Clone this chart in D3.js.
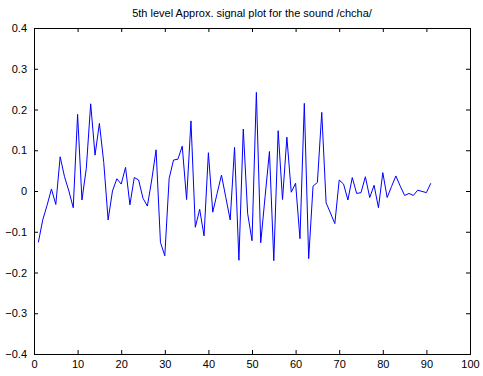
<!DOCTYPE html>
<html>
<head>
<meta charset="utf-8">
<script src="https://cdn.jsdelivr.net/npm/d3@7"></script>
<style>
  body { margin: 0; background: #fff; }
  svg text { font-family: Arial, "Liberation Sans", sans-serif; font-size: 11px; fill: #000; }
  .axis path, .axis line { stroke: #000; }
</style>
</head>
<body>
<script>
// chart data (sample index 1..91)
var titleText = "5th level Approx. signal plot for the sound /chcha/";
var signal = [
  -0.126, -0.071, -0.035, 0.005, -0.033, 0.084, 0.035, 0.0, -0.041, 0.188,
  -0.022, 0.056, 0.214, 0.088, 0.166, 0.07, -0.071, 0.0, 0.03, 0.017,
  0.058, -0.034, 0.033, 0.027, -0.018, -0.037, 0.027, 0.101, -0.126, -0.159,
  0.031, 0.076, 0.078, 0.11, -0.021, 0.172, -0.089, -0.045, -0.11, 0.094,
  -0.052, -0.006, 0.039, -0.016, -0.071, 0.107, -0.17, 0.152, -0.055, -0.122,
  0.242, -0.127, -0.014, 0.097, -0.171, 0.148, -0.021, 0.132, -0.003, 0.019,
  -0.117, 0.215, -0.166, 0.012, 0.021, 0.193, -0.029, -0.054, -0.08, 0.027,
  0.017, -0.022, 0.033, -0.006, -0.004, 0.035, -0.016, 0.014, -0.041, 0.045,
  -0.016, 0.011, 0.037, 0.012, -0.011, -0.006, -0.011, 0.002, -0.001, -0.004,
  0.019
];
var xTicks = [0, 10, 20, 30, 40, 50, 60, 70, 80, 90, 100];
var yTicks = [-0.4, -0.3, -0.2, -0.1, 0, 0.1, 0.2, 0.3, 0.4];

var width = 483, height = 376;
var margin = { top: 28, right: 13, bottom: 22, left: 34 };
var w = width - margin.left - margin.right,
    h = height - margin.top - margin.bottom;

var svg = d3.select("body").append("svg")
  .attr("width", width)
  .attr("height", height);

var g = svg.append("g")
  .attr("transform", "translate(" + margin.left + "," + margin.top + ")");

var x = d3.scaleLinear().domain([0, 100]).range([0, w]);
var y = d3.scaleLinear().domain([-0.4, 0.4]).range([h, 0]);

// ticks pointing inward on all four sides, labels only bottom/left
g.append("g")
  .attr("class", "axis")
  .attr("transform", "translate(0," + h + ")")
  .call(d3.axisBottom(x).tickValues(xTicks).tickSize(-4).tickPadding(6).tickFormat(d3.format("d")));

g.append("g")
  .attr("class", "axis")
  .call(d3.axisLeft(y).tickValues(yTicks).tickSize(-4).tickPadding(7)
    .tickFormat(function (d) { return d === 0 ? "0" : d3.format(".1f")(d); }));

g.append("g")
  .attr("class", "axis")
  .call(d3.axisTop(x).tickValues(xTicks).tickSize(-4).tickFormat(""));

g.append("g")
  .attr("class", "axis")
  .attr("transform", "translate(" + w + ",0)")
  .call(d3.axisRight(y).tickValues(yTicks).tickSize(-4).tickFormat(""));

g.selectAll(".axis text").attr("font-size", null).attr("font-family", null);

// the signal
var line = d3.line()
  .x(function (d, i) { return x(i + 1); })
  .y(function (d) { return y(d); });

g.append("path")
  .datum(signal)
  .attr("fill", "none")
  .attr("stroke", "#0000ff")
  .attr("stroke-width", 1)
  .attr("d", line);

svg.append("text")
  .attr("x", margin.left + w / 2)
  .attr("y", 17)
  .attr("text-anchor", "middle")
  .text(titleText);
</script>
</body>
</html>
